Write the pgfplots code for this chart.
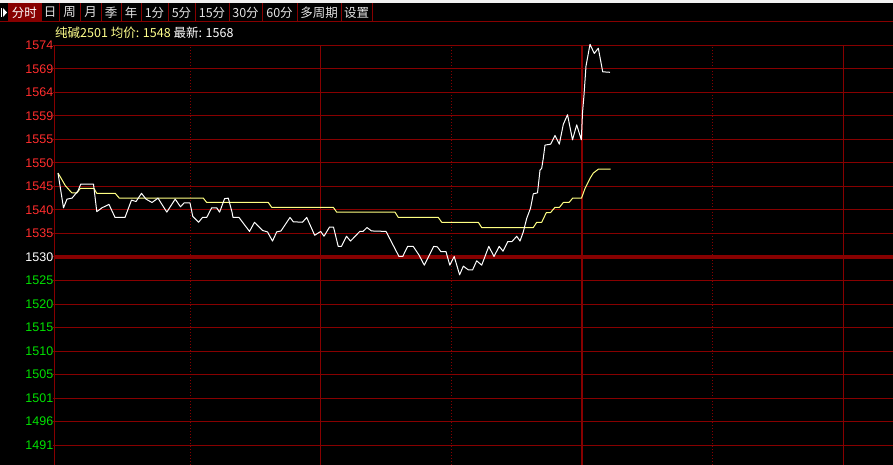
\documentclass[border=0pt]{standalone}
\usepackage{fontspec}
\setmainfont{Liberation Sans}
\newfontfamily\cjk{Noto Sans CJK SC}
\usepackage{pgfplots}
\pgfplotsset{compat=1.18}
\definecolor{gridred}{RGB}{135,0,0}
\definecolor{labred}{RGB}{255,45,45}
\definecolor{labgreen}{RGB}{0,225,0}
\definecolor{avgyellow}{RGB}{255,255,130}
\definecolor{hdryellow}{RGB}{255,255,140}
\definecolor{btntext}{RGB}{228,228,228}
\begin{document}
\begin{tikzpicture}[x=1pt,y=1pt]
\useasboundingbox (0,0) rectangle (893,465);
\fill[black] (0,0) rectangle (893,465);
\fill[gray!12] (0,462) rectangle (893,465);
% toolbar
\fill[gridred] (8,443) rectangle (41,462);
\foreach \xx in {8,41,59,80,101,121,141,168,195,229,262,297,341,372} {\draw[gridred, line width=1pt] (\xx,443) -- (\xx,462);}
\draw[gridred,line width=1pt] (0,443) -- (893,443);
\fill[white] (1,448) rectangle (2.2,457);
\fill[white] (3,448) -- (7,452.5) -- (3,457) -- cycle;
\node[text=white, font=\cjk\fontsize{12.5}{12.5}\selectfont, inner sep=0pt] at (24.5,452.5) {分时};
\foreach \l/\r/\t in {41/59/日,59/80/周,80/101/月,101/121/季,121/141/年,141/168/1分,168/195/5分,195/229/15分,229/262/30分,262/297/60分,297/341/多周期,341/372/设置}
  {\node[text=btntext, font=\cjk\fontsize{12.5}{12.5}\selectfont, inner sep=0pt] at ({(\l+\r)/2},452.5) {\t};}
% header
\node[anchor=west, inner sep=0pt, font=\cjk\fontsize{12.5}{12.5}\selectfont] at (55,432) {\textcolor{hdryellow}{纯碱2501 均价: 1548} \textcolor{white}{最新: 1568}};
\begin{axis}[
  at={(55pt,0pt)}, anchor=south west,
  width=838pt, height=419.8pt, scale only axis,
  xmin=0, xmax=838, ymin=1486.86, ymax=1573.92,
  clip=false,
  axis line style={draw=none},
  /pgf/number format/assume math mode=true,
  xtick={265,788}, xticklabels={},
  extra x ticks={135,396,657}, extra x tick labels={},
  extra x tick style={grid style={gridred, line width=1pt, dash pattern=on 1pt off 2pt}},
  xtick style={draw=none},
  xmajorgrids, ymajorgrids,
  grid style={gridred, line width=1pt},
  ytick={1490.96,1495.84,1500.72,1505.60,1510.48,1515.36,1520.24,1525.12,1534.88,1539.76,1544.64,1549.52,1554.40,1559.28,1564.16,1569.04,1573.92},
  yticklabels={\textcolor{labgreen}{1491},\textcolor{labgreen}{1496},\textcolor{labgreen}{1501},\textcolor{labgreen}{1505},\textcolor{labgreen}{1510},\textcolor{labgreen}{1515},\textcolor{labgreen}{1520},\textcolor{labgreen}{1525},\textcolor{labred}{1535},\textcolor{labred}{1540},\textcolor{labred}{1545},\textcolor{labred}{1550},\textcolor{labred}{1555},\textcolor{labred}{1559},\textcolor{labred}{1564},\textcolor{labred}{1569},\textcolor{labred}{1574}},
  extra y ticks={1530}, extra y tick labels={\textcolor{white}{1530}},
  extra y tick style={grid style={gridred, line width=3.5pt}},
  ytick pos=left, tick align=outside, major tick length=2pt,
  ytick style={gridred, line width=1pt},
  yticklabel style={font=\fontsize{12.5}{13}\selectfont, inner sep=0pt, xshift=0.5pt},
]
\draw[gridred, line width=2pt] (axis cs:527,1486.86) -- (axis cs:527,1573.92);
\draw[gridred, line width=1pt] (rel axis cs:0,0) -- (rel axis cs:0,1) -- (rel axis cs:1,1);
\addplot[avgyellow, line width=1pt, line join=round] coordinates {
(3,1547.4) (7,1546.0) (10.3,1544.8) (16.8,1543.3) (22,1543.3) (25.2,1544.2) (39,1544.2) (41.8,1543.2) (60.2,1543.2) (64.3,1542.2) (148.3,1542.2) (151.7,1541.3) (213.3,1541.3) (216.7,1540.3) (278.3,1540.3) (281.7,1539.3) (340,1539.3) (343.3,1538.2) (383.3,1538.2) (386.7,1537.2) (423.3,1537.2) (426.7,1536.1) (478.3,1536.1) (481.7,1537.2) (486.7,1537.2) (491.3,1539.2) (495.5,1539.2) (500,1540.3) (504.5,1540.3) (508.3,1541.3) (514,1541.3) (517.7,1542.2) (526.5,1542.2) (530,1544.2) (535,1546.3) (538.3,1547.4) (543.3,1548.2) (555.5,1548.2)
};
\addplot[white, line width=1pt, line join=round] coordinates {
(3,1547.4) (8.5,1540.2) (12,1542.0) (17,1542.2) (23,1543.7) (25.7,1545.1) (38.5,1545.1) (41.8,1539.4) (47,1540.2) (54,1540.9) (60,1538.2) (70,1538.2) (76.5,1541.8) (81,1541.5) (86.5,1543.2) (91,1542.0) (97,1541.3) (103,1542.2) (111.8,1539.3) (120.2,1542.0) (125.5,1540.4) (129,1541.2) (135,1541.2) (137.8,1538.4) (143.6,1537.2) (147.5,1538.2) (151.7,1538.2) (156.7,1540.2) (161.7,1540.2) (164.6,1539.3) (169.6,1542.1) (173.3,1542.2) (177,1539.3) (178,1538.2) (184,1538.2) (194.5,1535.3) (199.5,1537.2) (207.5,1535.5) (212.5,1535.2) (217.5,1533.3) (221.7,1535.2) (226,1535.4) (235,1538.2) (238.3,1537.3) (247.5,1537.2) (251.7,1538.2) (259.7,1534.5) (265.7,1535.3) (269,1534.3) (274.5,1536.2) (278.5,1536.2) (283.2,1532.2) (286.5,1532.2) (291.5,1534.3) (295.5,1533.3) (304.8,1535.3) (308,1535.3) (312,1536.1) (316.5,1535.4) (331,1535.3) (344,1530.1) (347.7,1530.1) (352.7,1532.2) (358.2,1532.2) (364,1530.4) (369.3,1528.3) (378.7,1532.2) (382.3,1532.1) (386,1531.1) (391,1531.1) (394.8,1528.3) (399.2,1530.1) (404.6,1526.3) (408.3,1528.1) (413.5,1527.3) (417.5,1527.3) (421.7,1529.2) (426.7,1528.3) (433.8,1532.2) (439,1530.1) (444.2,1532.2) (448,1531.2) (452.8,1533.2) (457,1533.2) (461.7,1534.3) (465,1533.3) (468.3,1535.2) (471.7,1538.0) (475.5,1540.1) (478.3,1543.1) (482.5,1543.3) (485,1548.0) (486.7,1548.4) (488.3,1550.5) (490,1553.2) (495.7,1553.4) (500,1555.2) (504.3,1553.4) (508.3,1557.5) (512.5,1559.5) (517.5,1554.3) (521.7,1557.4) (526.3,1554.3) (527.5,1559.9) (529,1563.6) (531,1569.6) (535,1574.1) (539.3,1572.2) (543.3,1573.3) (547.7,1568.4) (555,1568.3)
};
\end{axis}
\end{tikzpicture}
\end{document}
